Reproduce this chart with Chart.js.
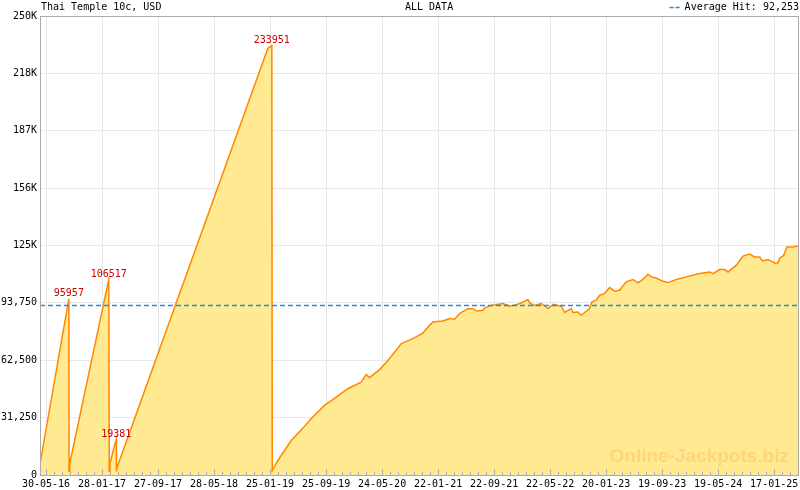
<!DOCTYPE html>
<html>
<head>
<meta charset="utf-8">
<script src="https://cdn.jsdelivr.net/npm/chart.js@4/dist/chart.umd.min.js"></script>
<style>
  body { margin: 0; background: #fff; }
  #wrap { width: 800px; height: 490px; }
</style>
</head>
<body>
<div id="wrap"><canvas id="jackpotChart" width="800" height="490"></canvas></div>
<script>
// days counted from 30-05-16
const dayOffsets = [
    -26, 99, 100,
    103, 272, 274,
    277, 304, 305,
    308, 961, 978, 980,
    1004, 1062, 1112, 1149, 1206, 1257, 1307, 1365, 1387, 1401,
    1445, 1481, 1539, 1589, 1632, 1661, 1676, 1719, 1748, 1770,
    1791, 1827, 1849, 1864, 1892, 1900, 1929, 1979, 2008, 2044,
    2066, 2087, 2095, 2116, 2145, 2174, 2198, 2232, 2246, 2275,
    2282, 2304, 2318, 2333, 2354, 2364, 2383, 2398, 2419, 2441,
    2463, 2484, 2513, 2542, 2564, 2585, 2607, 2622, 2643, 2672,
    2694, 2730, 2773, 2831, 2874, 2889, 2918, 2939, 2954, 2990,
    3019, 3047, 3069, 3091, 3103, 3127, 3156, 3170, 3177, 3195,
    3209, 3235, 3257
];
const jackpotValues = [
    6000, 95957, 2000,
    6400, 106517, 2000,
    6400, 19381, 2000,
    4200, 232400, 233951, 2400,
    7900, 18800, 25400, 30800, 37900, 42400, 47000, 50600, 54800, 53000,
    57400, 62400, 71600, 74300, 77300, 81500, 83300, 83900, 85200, 84800,
    87900, 90600, 90600, 89300, 89700, 91000, 92400, 93400, 91900, 93000,
    94200, 95600, 93700, 92400, 93400, 90600, 93000, 91900, 88500, 90600,
    88500, 88800, 87000, 88500, 90600, 94200, 95200, 97900, 98800, 102100,
    100100, 100600, 105200, 106500, 104600, 106500, 109400, 107900, 107300, 105500,
    104800, 106500, 107900, 109700, 110600, 109700, 111900, 111900, 110600, 114300,
    119200, 120300, 118800, 118800, 116600, 117400, 115500, 115500, 117900, 119700,
    124200, 124200, 124800
];
const xTickLabels = ['30-05-16', '28-01-17', '27-09-17', '28-05-18', '25-01-19', '25-09-19', '24-05-20',
    '22-01-21', '22-09-21', '22-05-22', '20-01-23', '19-09-23', '19-05-24', '17-01-25'];
const peakDays = [99, 272, 304, 978];
const peakValues = [95957, 106517, 19381, 233951];
const averageHit = 92253;
const xRange = [-26, 3257];
const majorStep = 242.6;   // days between labelled ticks
const minorPerMajor = 7;

const monoFont = '10px "DejaVu Sans Mono", monospace';

const overlayPlugin = {
    id: 'overlay',
    afterDatasetsDraw(chart) {
        const ctx = chart.ctx;
        const area = chart.chartArea;
        const xs = chart.scales.x;
        const ys = chart.scales.y;
        ctx.save();

        // watermark
        ctx.font = 'bold 19px "Liberation Sans", Arial, sans-serif';
        ctx.fillStyle = '#ffd47e';
        ctx.textAlign = 'right';
        ctx.textBaseline = 'alphabetic';
        ctx.fillText('Online-Jackpots.biz', 789, 462);

        // inner tick marks on the bottom axis
        ctx.strokeStyle = '#a8b0c8';
        ctx.lineWidth = 1;
        xs.ticks.forEach((t, i) => {
            const px = Math.round(xs.getPixelForValue(t.value)) + 0.5;
            const len = i % minorPerMajor === 0 ? 6 : 3;
            ctx.beginPath();
            ctx.moveTo(px, area.bottom);
            ctx.lineTo(px, area.bottom - len);
            ctx.stroke();
        });

        // frame
        ctx.strokeStyle = '#aaaaaa';
        ctx.strokeRect(Math.round(area.left) + 0.5, Math.round(area.top) + 0.5,
            Math.round(area.right - area.left), Math.round(area.bottom - area.top));

        // peak labels
        ctx.font = monoFont;
        ctx.fillStyle = '#cc0000';
        ctx.textAlign = 'center';
        ctx.textBaseline = 'middle';
        peakDays.forEach((d, i) => {
            ctx.fillText(String(peakValues[i]), xs.getPixelForValue(d), ys.getPixelForValue(peakValues[i]) - 5);
        });
        ctx.restore();
    },
    afterDraw(chart) {
        const ctx = chart.ctx;
        ctx.save();
        ctx.font = monoFont;
        ctx.fillStyle = '#000';
        ctx.textBaseline = 'middle';
        ctx.textAlign = 'left';
        ctx.fillText('Thai Temple 10c, USD', 41, 7);
        ctx.fillText('ALL DATA', 405, 7);
        ctx.textAlign = 'right';
        const avgText = 'Average Hit: ' + averageHit.toLocaleString('en-US');
        ctx.fillText(avgText, 799, 7);
        const w = ctx.measureText(avgText).width;
        ctx.strokeStyle = '#2f8ad0';
        ctx.lineWidth = 1.5;
        ctx.setLineDash([4, 2]);
        ctx.beginPath();
        ctx.moveTo(799 - w - 15, 7.5);
        ctx.lineTo(799 - w - 3, 7.5);
        ctx.stroke();
        ctx.restore();
    }
};

new Chart(document.getElementById('jackpotChart'), {
    type: 'line',
    data: {
        datasets: [{
            label: 'Average Hit',
            data: xRange.map(d => ({ x: d, y: averageHit })),
            borderColor: '#2f8ad0',
            borderWidth: 1.5,
            borderDash: [5, 3],
            pointRadius: 0,
            fill: false,
            order: 0
        }, {
            label: 'Jackpot',
            data: dayOffsets.map((d, i) => ({ x: d, y: jackpotValues[i] })),
            borderColor: '#ff8800',
            backgroundColor: '#ffe991',
            borderWidth: 1.5,
            pointRadius: 0,
            tension: 0,
            fill: 'origin',
            order: 1
        }]
    },
    options: {
        responsive: false,
        animation: false,
        devicePixelRatio: 1,
        layout: { padding: { top: 16, right: 2, left: 0, bottom: 0 } },
        plugins: {
            legend: { display: false },
            tooltip: { enabled: false }
        },
        scales: {
            x: {
                type: 'linear',
                min: xRange[0],
                max: xRange[1],
                afterBuildTicks(scale) {
                    const ticks = [];
                    const step = majorStep / minorPerMajor;
                    for (let i = 0; i * step <= xRange[1]; i++) ticks.push({ value: i * step });
                    scale.ticks = ticks;
                },
                afterFit(scale) { scale.height = 15; },
                ticks: {
                    autoSkip: false,
                    maxRotation: 0,
                    padding: 3,
                    color: '#000',
                    font: { family: '"DejaVu Sans Mono", monospace', size: 10 },
                    callback: (v, i) => i % minorPerMajor === 0 ? xTickLabels[i / minorPerMajor] : ''
                },
                grid: {
                    drawTicks: false,
                    color: c => c.index % minorPerMajor === 0 ? '#e8e8e8' : 'rgba(0,0,0,0)'
                },
                border: { display: false }
            },
            y: {
                min: 0,
                max: 250000,
                afterFit(scale) { scale.width = 40; },
                ticks: {
                    stepSize: 31250,
                    padding: 3,
                    color: '#000',
                    font: { family: '"DejaVu Sans Mono", monospace', size: 10 },
                    callback: v => v >= 125000 ? Math.floor(v / 1000) + 'K' : v.toLocaleString('en-US')
                },
                grid: { drawTicks: false, color: '#e8e8e8' },
                border: { display: false }
            }
        }
    },
    plugins: [overlayPlugin]
});
</script>
</body>
</html>
